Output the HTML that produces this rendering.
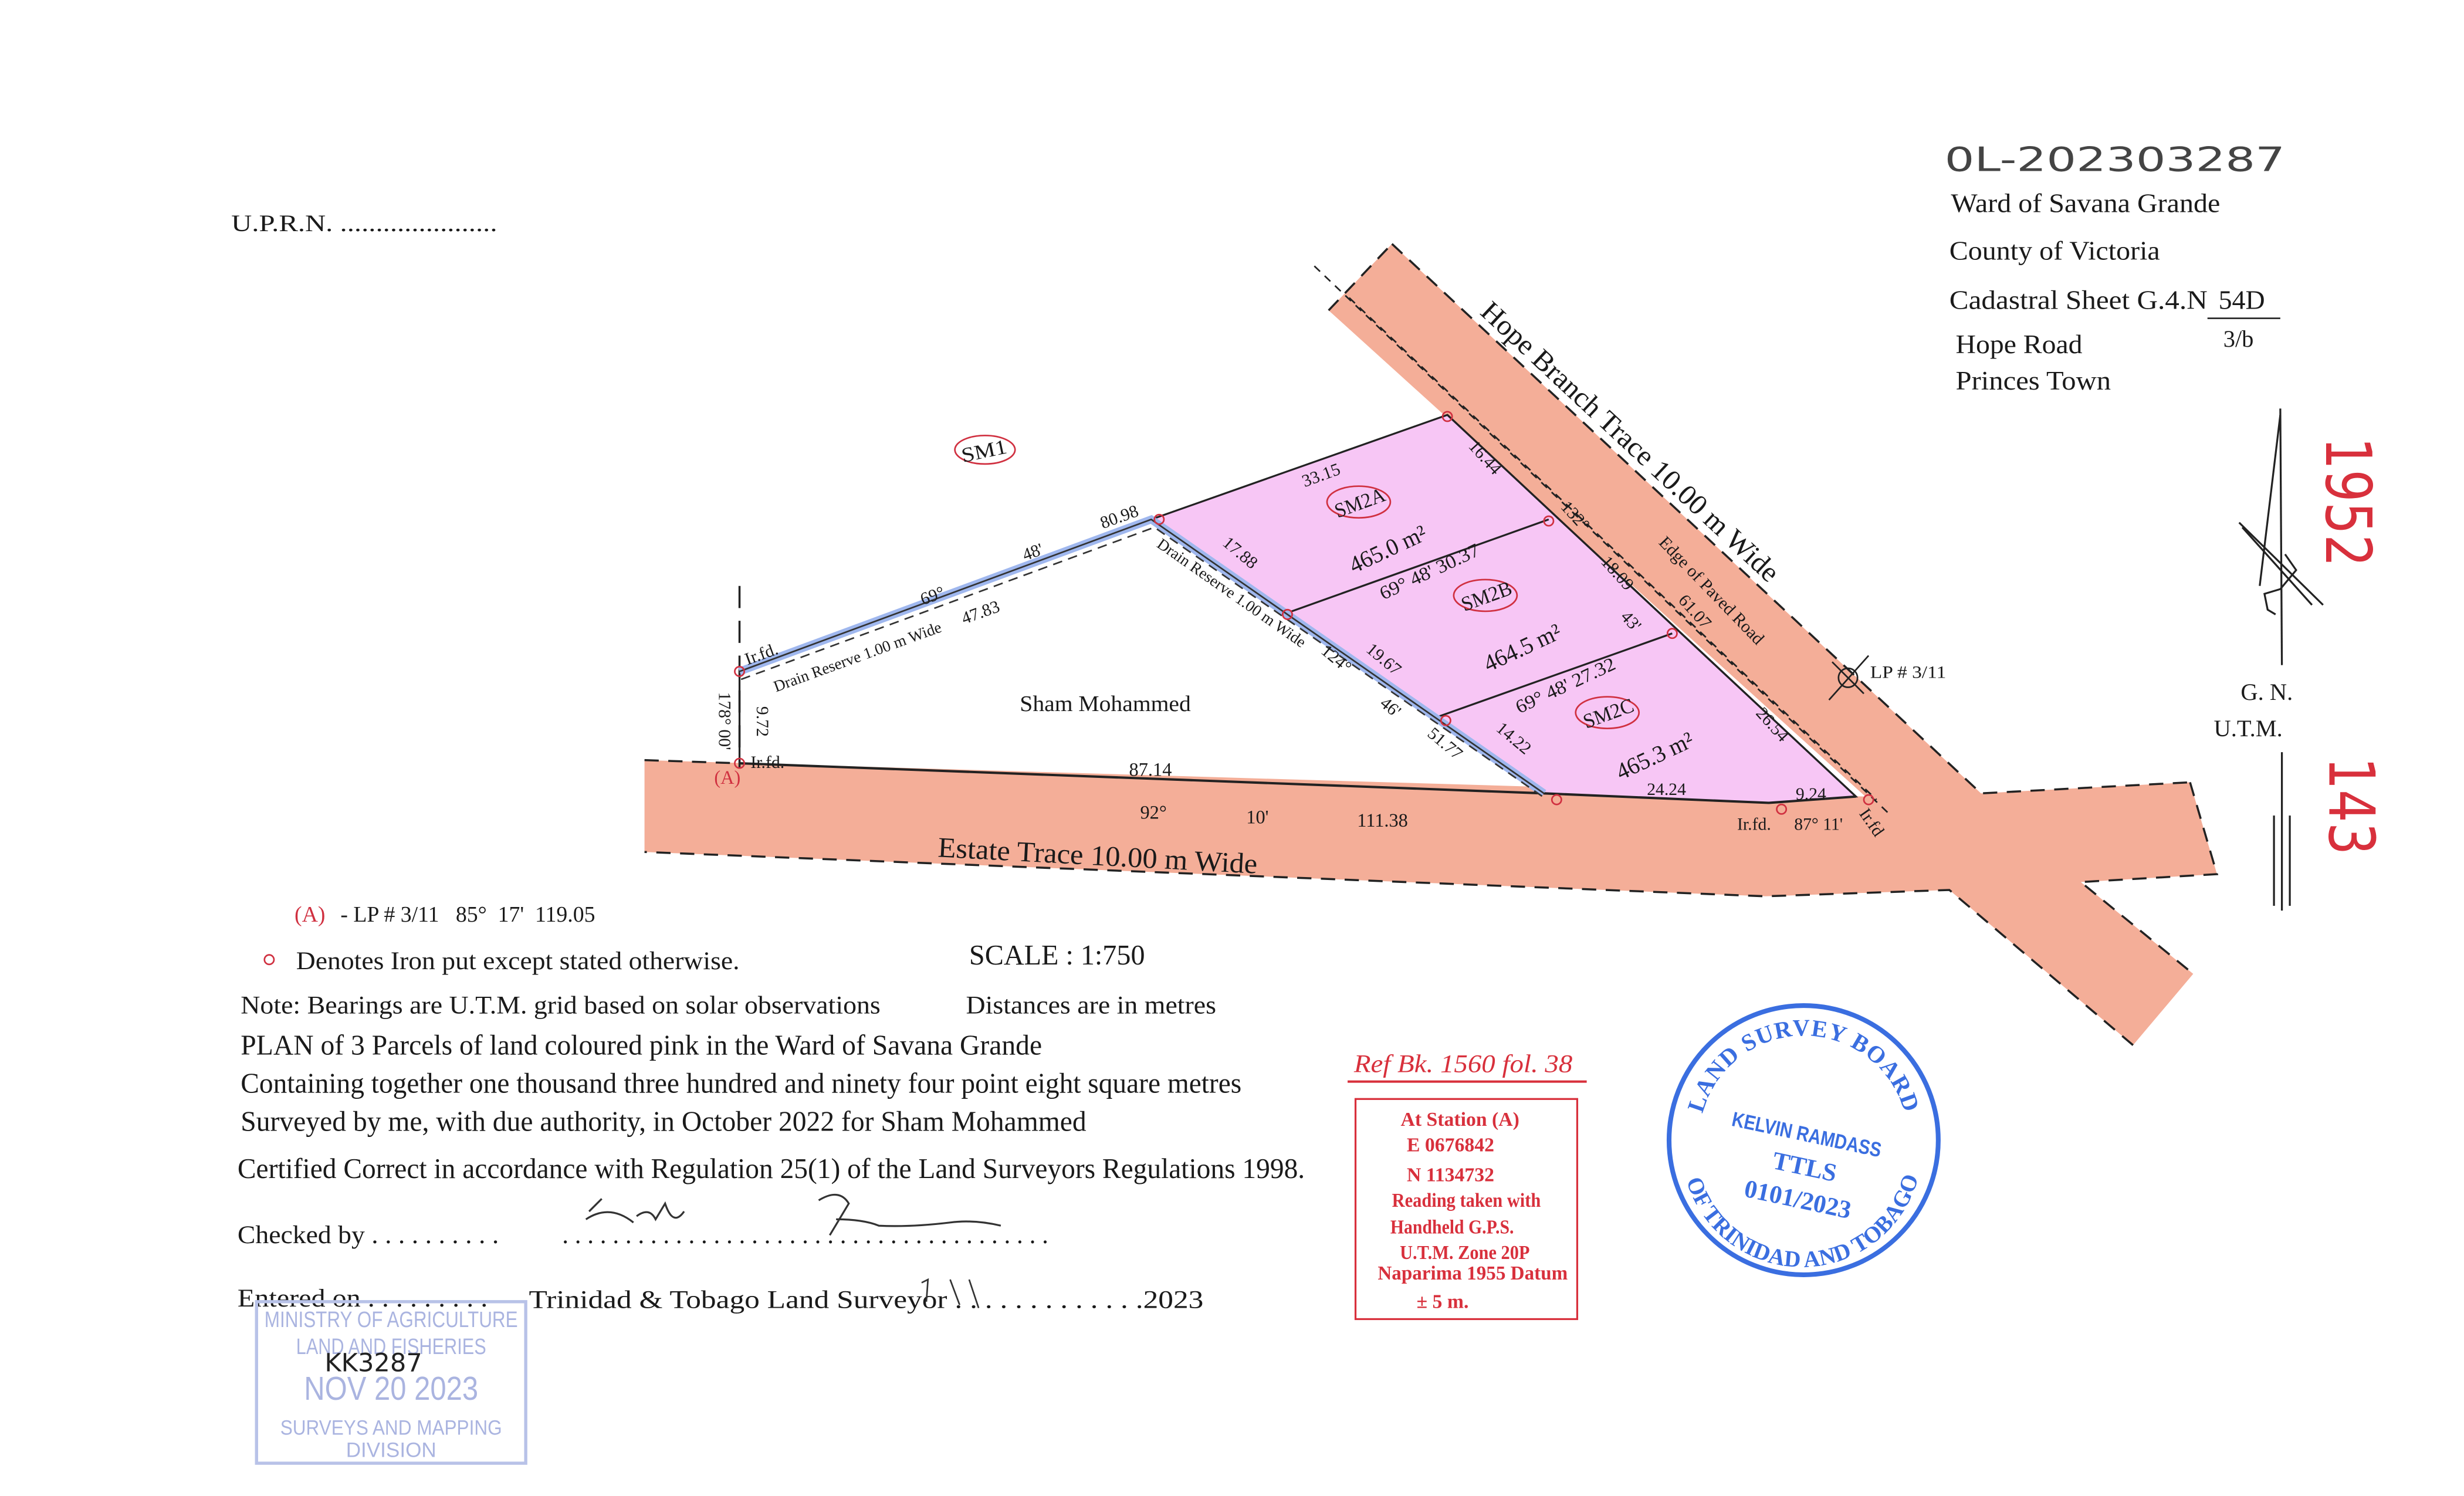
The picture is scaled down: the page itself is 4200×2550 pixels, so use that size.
<!DOCTYPE html>
<html><head><meta charset="utf-8"><style>
html,body{margin:0;padding:0;background:#fff}
svg{display:block}
text{font-family:"Liberation Serif",serif}
</style></head><body>
<svg width="4200" height="2550" viewBox="0 0 1556 944.7" xmlns="http://www.w3.org/2000/svg" fill="#1a1a1a">
<rect width="1556" height="945" fill="#fff"/>
<!-- Roads -->
<polygon points="407,480 1178,503 839,196 879,154 1251,501 1383,494 1400,552 1314,557 1385,615 1347,660 1231,562 1115,566 407,538" fill="#f4ae98"/>
<g fill="none" stroke="#222" stroke-width="1.3" stroke-dasharray="9,6">
<polyline points="839,196 879,154"/>
<polyline points="879,154 1251,501 1383,494"/>
<polyline points="1383,494 1400,552 1314,557 1385,615"/>
<polyline points="1347,660 1231,562 1115,566 407,538"/>
<polyline points="407,480 467,482"/>
<line x1="830" y1="168" x2="1192" y2="513" stroke-dasharray="5,4" stroke-width="1"/>
<line x1="852" y1="188" x2="1185" y2="505" stroke-dasharray="5,4" stroke-width="1"/>
<line x1="467" y1="370" x2="467" y2="485" stroke-dasharray="14,8"/>
</g>
<!-- parcels -->
<polygon points="727,328 914,262 1172,503 1117,507 975,501 907,453 813,387" fill="#f7c6f5" stroke="#222" stroke-width="1.2"/>
<line x1="978" y1="328" x2="813" y2="387" stroke="#222" stroke-width="1.2"/>
<line x1="1056" y1="400" x2="907" y2="453" stroke="#222" stroke-width="1.2"/>
<line x1="914" y1="262" x2="1172" y2="503" stroke="#222" stroke-width="1.2"/>
<!-- estate boundary -->
<polyline points="467,482 975,501 1117,507 1172,503" fill="none" stroke="#222" stroke-width="1.5"/>
<line x1="467" y1="424" x2="467" y2="482" stroke="#222" stroke-width="1.2"/>
<!-- drains -->
<polyline points="467,424 727,328 975,501" fill="none" stroke="#9fb7ee" stroke-width="5"/>
<polyline points="467,424 727,328 975,501" fill="none" stroke="#333" stroke-width="1"/>
<polyline points="468,429 729,333 977,505" fill="none" stroke="#333" stroke-width="1" stroke-dasharray="6,4"/>
<!-- iron marks -->
<g fill="none" stroke="#d03040" stroke-width="1">
<circle cx="467" cy="424" r="3"/><circle cx="467" cy="482" r="3"/><circle cx="732" cy="328" r="3"/>
<circle cx="914" cy="263" r="3"/><circle cx="978" cy="329" r="3"/><circle cx="1056" cy="400" r="3"/>
<circle cx="813" cy="388" r="3"/><circle cx="913" cy="455" r="3"/><circle cx="983" cy="505" r="3"/>
<circle cx="1125" cy="511" r="3"/><circle cx="1180" cy="505" r="3"/>
<ellipse cx="622" cy="284" rx="19" ry="9"/><ellipse cx="858" cy="317" rx="20" ry="10"/>
<ellipse cx="938" cy="376" rx="20" ry="10"/><ellipse cx="1015" cy="450" rx="20" ry="10"/>
</g>
<!-- LP marker -->
<g stroke="#222" stroke-width="1" fill="none"><circle cx="1167" cy="428" r="6"/><line x1="1155" y1="442" x2="1180" y2="414"/><line x1="1157" y1="418" x2="1177" y2="438"/></g>
<text x="1181" y="428" font-size="11" textLength="48" lengthAdjust="spacingAndGlyphs">LP # 3/11</text>
<!-- parcel labels -->
<g font-size="13">
<text x="607" y="289" transform="rotate(-12 622 285)" textLength="29" lengthAdjust="spacingAndGlyphs">SM1</text>
<text x="842" y="322" transform="rotate(-20 858 317)" textLength="33" lengthAdjust="spacingAndGlyphs">SM2A</text>
<text x="922" y="381" transform="rotate(-20 938 376)" textLength="33" lengthAdjust="spacingAndGlyphs">SM2B</text>
<text x="999" y="455" transform="rotate(-20 1015 450)" textLength="33" lengthAdjust="spacingAndGlyphs">SM2C</text>
<text x="850" y="350" font-size="15" transform="rotate(-25 880 345)" textLength="52" lengthAdjust="spacingAndGlyphs">465.0 m²</text>
<text x="934" y="412" font-size="15" transform="rotate(-25 965 405)" textLength="52" lengthAdjust="spacingAndGlyphs">464.5 m²</text>
<text x="1018" y="482" font-size="15" transform="rotate(-25 1045 475)" textLength="52" lengthAdjust="spacingAndGlyphs">465.3 m²</text>
<text x="868" y="366" font-size="12" transform="rotate(-25 900 360)" textLength="68" lengthAdjust="spacingAndGlyphs">69° 48' 30.37</text>
<text x="953" y="438" font-size="12" transform="rotate(-25 985 430)" textLength="68" lengthAdjust="spacingAndGlyphs">69° 48' 27.32</text>
</g>
<g font-size="11">
<text x="822" y="303" transform="rotate(-20 836 300)">33.15</text>
<text x="922" y="287" transform="rotate(48 930 290)">16.44</text>
<text x="984" y="327" transform="rotate(48 992 325)">132°</text>
<text x="1003" y="358" transform="rotate(48 1010 365)">18.09</text>
<text x="1022" y="392" transform="rotate(48 1025 392)">43'</text>
<text x="1048" y="385" transform="rotate(48 1060 395)">61.07</text>
<text x="1102" y="455" transform="rotate(48 1110 460)">26.54</text>
<text x="767" y="348" transform="rotate(40 775 352)">17.88</text>
<text x="857" y="415" transform="rotate(40 865 420)">19.67</text>
<text x="830" y="418" transform="rotate(40 840 420)">124°</text>
<text x="868" y="447" transform="rotate(40 872 450)">46'</text>
<text x="898" y="472" transform="rotate(40 910 472)">51.77</text>
<text x="938" y="466" transform="rotate(40 948 472)">14.22</text>
<text x="1040" y="502">24.24</text>
<text x="1134" y="505">9.24</text>
<text x="1097" y="524">Ir.fd.</text>
<text x="1133" y="524">87° 11'</text>
<text x="1172" y="517" transform="rotate(55 1176 517)">Ir.fd</text>
<text x="695" y="330" transform="rotate(-20 707 328)">80.98</text>
<text x="646" y="353" transform="rotate(-20 650 350)">48'</text>
<text x="581" y="380" transform="rotate(-20 588 376)">69°</text>
<text x="607" y="390" transform="rotate(-20 620 387)">47.83</text>
<text x="490" y="437" font-size="10" transform="rotate(-20 490 437)" textLength="112" lengthAdjust="spacingAndGlyphs">Drain Reserve 1.00 m Wide</text>
<text x="730" y="345" font-size="10" transform="rotate(35 730 345)" textLength="112" lengthAdjust="spacingAndGlyphs">Drain Reserve 1.00 m Wide</text>
<text x="472" y="420" transform="rotate(-20 472 420)">Ir.fd.</text>
<text x="474" y="485">Ir.fd.</text>
<text x="454" y="437" transform="rotate(90 454 437)">178° 00'</text>
<text x="478" y="446" transform="rotate(90 478 446)">9.72</text>
<text x="713" y="490" font-size="12">87.14</text>
<text x="720" y="517" font-size="12">92°</text>
<text x="787" y="520" font-size="12">10'</text>
<text x="857" y="522" font-size="12">111.38</text>
</g>
<text x="451" y="495" font-size="12" fill="#d03040">(A)</text>
<text x="644" y="449" font-size="14" textLength="108" lengthAdjust="spacingAndGlyphs">Sham Mohammed</text>
<text x="592" y="541" font-size="18" transform="rotate(3 592 541)" textLength="202" lengthAdjust="spacingAndGlyphs">Estate  Trace  10.00 m Wide</text>
<text x="934" y="198" font-size="18" transform="rotate(43 934 198)" textLength="250" lengthAdjust="spacingAndGlyphs">Hope Branch Trace 10.00 m Wide</text>
<text x="1047" y="343" font-size="11" transform="rotate(46 1047 343)" textLength="90" lengthAdjust="spacingAndGlyphs">Edge of Paved Road</text>
<!-- header -->
<text x="146" y="146" font-size="15" textLength="168" lengthAdjust="spacingAndGlyphs">U.P.R.N. ......................</text>
<text x="1228" y="108" font-size="21" fill="#444" textLength="215" lengthAdjust="spacingAndGlyphs" style="font-family:'DejaVu Sans',sans-serif">0L-202303287</text>
<g font-size="17">
<text x="1232" y="134" textLength="170" lengthAdjust="spacingAndGlyphs">Ward of Savana Grande</text>
<text x="1231" y="164" textLength="133" lengthAdjust="spacingAndGlyphs">County of Victoria</text>
<text x="1231" y="195" textLength="163" lengthAdjust="spacingAndGlyphs">Cadastral Sheet  G.4.N</text>
<text x="1401" y="195">54D</text>
<text x="1404" y="219" font-size="15">3/b</text>
<text x="1235" y="223" textLength="80" lengthAdjust="spacingAndGlyphs">Hope Road</text>
<text x="1235" y="246" textLength="98" lengthAdjust="spacingAndGlyphs">Princes Town</text>
</g>
<line x1="1394" y1="201" x2="1440" y2="201" stroke="#222" stroke-width="1"/>
<!-- north arrow -->
<g stroke="#222" stroke-width="1.2" fill="none">
<line x1="1440" y1="258" x2="1441" y2="420"/><line x1="1440" y1="262" x2="1427" y2="370"/>
<line x1="1414" y1="330" x2="1467" y2="382"/><line x1="1416" y1="333" x2="1460" y2="382"/>
<path d="M1443,350 L1450,360 L1440,372 L1430,375 L1432,385 L1437,388"/>
<line x1="1441" y1="475" x2="1441" y2="575"/><line x1="1436" y1="515" x2="1436" y2="572"/><line x1="1446" y1="515" x2="1446" y2="572"/>
</g>
<text x="1415" y="442" font-size="15">G.  N.</text>
<text x="1398" y="465" font-size="15">U.T.M.</text>
<text x="1469" y="276" font-size="40" fill="#d8303c" transform="rotate(90 1469 276)" textLength="82" lengthAdjust="spacingAndGlyphs" style="font-family:'DejaVu Sans',sans-serif">1952</text>
<text x="1471" y="478" font-size="40" fill="#d8303c" transform="rotate(90 1471 478)" textLength="62" lengthAdjust="spacingAndGlyphs" style="font-family:'DejaVu Sans',sans-serif">143</text>
<!-- notes -->
<text x="186" y="582" font-size="14" fill="#d03040">(A)</text>
<text x="215" y="582" font-size="14" xml:space="preserve">- LP # 3/11   85°  17'  119.05</text>
<circle cx="170" cy="606" r="3" fill="none" stroke="#d03040" stroke-width="1"/>
<text x="187" y="612" font-size="16" textLength="280" lengthAdjust="spacingAndGlyphs">Denotes Iron put except stated otherwise.</text>
<text x="612" y="609" font-size="18" textLength="111" lengthAdjust="spacingAndGlyphs">SCALE : 1:750</text>
<text x="152" y="640" font-size="16" textLength="404" lengthAdjust="spacingAndGlyphs">Note: Bearings are U.T.M. grid based on solar observations</text>
<text x="610" y="640" font-size="16" textLength="158" lengthAdjust="spacingAndGlyphs">Distances are in metres</text>
<text x="152" y="666" font-size="18" textLength="506" lengthAdjust="spacingAndGlyphs">PLAN of 3 Parcels of land coloured pink in the Ward of Savana Grande</text>
<text x="152" y="690" font-size="18" textLength="632" lengthAdjust="spacingAndGlyphs">Containing together one thousand three hundred and ninety four point eight square metres</text>
<text x="152" y="714" font-size="18" textLength="534" lengthAdjust="spacingAndGlyphs">Surveyed by me, with due authority, in October 2022 for Sham Mohammed</text>
<text x="150" y="744" font-size="18" textLength="674" lengthAdjust="spacingAndGlyphs">Certified Correct in accordance with Regulation 25(1) of the Land Surveyors Regulations 1998.</text>
<text x="150" y="785" font-size="16" textLength="165" lengthAdjust="spacingAndGlyphs">Checked by . . . . . . . . . .</text>
<text x="355" y="785" font-size="16" textLength="307" lengthAdjust="spacing">.......................................</text>
<path d="M372,765 L380,757 M370,770 Q385,760 400,772 M402,768 Q410,762 414,770 L420,760 Q425,775 432,765 M517,758 Q530,750 536,760 Q530,770 524,780 M528,770 Q545,770 555,774 Q575,775 600,772 Q615,770 632,774" fill="none" stroke="#333" stroke-width="1.2"/>
<text x="150" y="825" font-size="16" textLength="158" lengthAdjust="spacingAndGlyphs">Entered on . . . . . . . . .</text>
<text x="334" y="826" font-size="16" textLength="426" lengthAdjust="spacingAndGlyphs">Trinidad &amp; Tobago  Land Surveyor . . . . . . . . . . . . .2023</text>
<path d="M582,810 L586,808 L585,822 M600,808 L606,824 M612,808 L618,826" fill="none" stroke="#333" stroke-width="1"/>
<!-- ministry stamp -->
<rect x="162" y="822" width="170" height="102" fill="none" stroke="#b8c2e8" stroke-width="2"/>
<g fill="#aab4e0" text-anchor="middle">
<text x="247" y="838" font-size="14" textLength="160" lengthAdjust="spacingAndGlyphs" style="font-family:'Liberation Sans',sans-serif">MINISTRY OF AGRICULTURE</text>
<text x="247" y="855" font-size="14" textLength="120" lengthAdjust="spacingAndGlyphs" style="font-family:'Liberation Sans',sans-serif">LAND AND FISHERIES</text>
<text x="247" y="884" font-size="21" textLength="110" lengthAdjust="spacingAndGlyphs" style="font-family:'Liberation Sans',sans-serif">NOV 20 2023</text>
<text x="247" y="906" font-size="13" textLength="140" lengthAdjust="spacingAndGlyphs" style="font-family:'Liberation Sans',sans-serif">SURVEYS AND MAPPING</text>
<text x="247" y="920" font-size="13" style="font-family:'Liberation Sans',sans-serif">DIVISION</text>
</g>
<text x="205" y="866" font-size="16" fill="#222" style="font-family:'DejaVu Sans',sans-serif">KK3287</text>
<!-- ref box -->
<text x="855" y="677" font-size="16" font-style="italic" fill="#d8303c" textLength="138" lengthAdjust="spacingAndGlyphs">Ref  Bk. 1560  fol. 38</text>
<line x1="851" y1="683" x2="1002" y2="683" stroke="#d8303c" stroke-width="1.5"/>
<rect x="856" y="694" width="140" height="139" fill="none" stroke="#d8303c" stroke-width="1.2"/>
<g font-size="12.5" fill="#d8303c" text-anchor="middle" font-weight="bold">
<text x="922" y="711">At Station (A)</text>
<text x="916" y="727">E 0676842</text>
<text x="916" y="746">N 1134732</text>
<text x="926" y="762" textLength="94" lengthAdjust="spacingAndGlyphs">Reading taken with</text>
<text x="917" y="779" textLength="78" lengthAdjust="spacingAndGlyphs">Handheld G.P.S.</text>
<text x="925" y="795" textLength="82" lengthAdjust="spacingAndGlyphs">U.T.M. Zone 20P</text>
<text x="930" y="808" textLength="120" lengthAdjust="spacingAndGlyphs">Naparima 1955 Datum</text>
<text x="911" y="826">± 5 m.</text>
</g>
<!-- blue seal -->
<defs>
<path id="top" d="M1075.5,738 A66,66 0 1 1 1202.5,738"/>
<path id="bot" d="M1065.2,702 A76,76 0 1 0 1210,700"/>
</defs>
<circle cx="1139" cy="720" r="85" fill="none" stroke="#3a6ee0" stroke-width="3"/>
<g fill="#3a6ee0" font-weight="bold">
<text font-size="15" letter-spacing="0.5"><textPath href="#top" startOffset="50%" text-anchor="middle">LAND SURVEY BOARD</textPath></text>
<text font-size="14.5"><textPath href="#bot" startOffset="50%" text-anchor="middle">OF TRINIDAD AND TOBAGO</textPath></text>
<g transform="rotate(12 1139 740)" text-anchor="middle">
<text x="1136" y="721" font-size="13" textLength="96" lengthAdjust="spacingAndGlyphs" style="font-family:'Liberation Sans',sans-serif">KELVIN RAMDASS</text>
<text x="1139" y="742" font-size="16">TTLS</text>
<text x="1139" y="763" font-size="16">0101/2023</text>
</g>
</g>
</svg>
</body></html>
